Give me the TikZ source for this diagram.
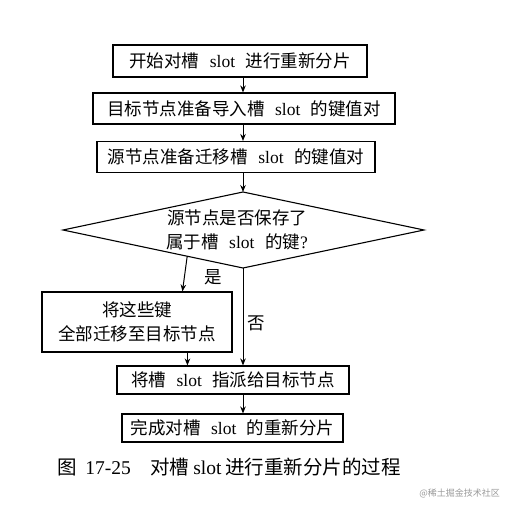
\documentclass[tikz,border=0pt]{standalone}
\usepackage{fontspec}
\setmainfont{Noto Sans CJK SC}
\newfontfamily\latf{Liberation Serif}
\usetikzlibrary{arrows.meta,calc}
\newcommand\slt{\hspace{0.6em}{\latf slot}\hspace{0.6em}}
\begin{document}
\begin{tikzpicture}[x=1pt,y=-1pt,
  box/.style={draw,line width=1.1pt,rectangle,inner sep=0pt,font=\fontsize{17.5}{21}\selectfont},
  arr/.style={line width=1pt,-{Stealth[length=7pt,width=5.5pt]}},
  lbl/.style={font=\fontsize{17.5}{21}\selectfont,inner sep=0pt}]
\useasboundingbox (0,0) rectangle (505,510);
\node[box,minimum width=254,minimum height=32] (b1) at (240,61) {开始对槽\slt{}进行重新分片};
\node[box,minimum width=302,minimum height=31] (b2) at (244,108.5) {目标节点准备导入槽\slt{}的键值对};
\node[box,minimum width=278,minimum height=31] (b3) at (236,157) {源节点准备迁移槽\slt{}的键值对};
\coordinate (dl) at (63,230);
\coordinate (dt) at (243,192);
\coordinate (dr) at (424,230);
\coordinate (db) at (243,268);
\draw[line width=1.1pt] (dl) -- (dt) -- (dr) -- (db) -- cycle;
\node[lbl,align=center] (dq) at (237,230) {源节点是否保存了\\[3pt]属于槽\slt{}的键{\latf ?}};
\node[box,minimum width=190,minimum height=60,align=center] (b4) at (137,322) {将这些键\\[3pt]全部迁移至目标节点};
\node[box,minimum width=232,minimum height=28] (b5) at (233,380) {将槽\slt{}指派给目标节点};
\node[box,minimum width=221,minimum height=28] (b6) at (232.5,428) {完成对槽\slt{}的重新分片};
\coordinate (ys) at ($(dl)!0.69!(db)$);
\coordinate (ye) at ($(b4.north west)+(141,0)$);
\draw[arr] (b1.south -| dt) -- (b2.north -| dt);
\draw[arr] (b2.south -| dt) -- (b3.north -| dt);
\draw[arr] (b3.south -| dt) -- (dt);
\draw[arr] (ys) -- (ye);
\draw[arr] (db) -- (b5.north -| db);
\coordinate (yb) at ($(b4.south west)+(146,0)$);
\draw[arr] (yb) -- (b5.north -| yb);
\draw[arr] (b5.south -| dt) -- (b6.north -| dt);
\node[lbl] (yes) at (213,277) {是};
\node[lbl] (no) at (256,323) {否};
\node[lbl,anchor=west,font=\fontsize{19.5}{22}\selectfont] (cap) at (57,467) {图\hspace{0.45em}{\latf 17-25}\hspace{1em}对槽\hspace{0.2em}{\latf slot}\hspace{0.2em}进行重新分片的过程};
\node[lbl,anchor=east,font=\fontsize{9}{11}\selectfont,text=black!40] (wm) at (500,493) {@稀土掘金技术社区};
\end{tikzpicture}
\end{document}
